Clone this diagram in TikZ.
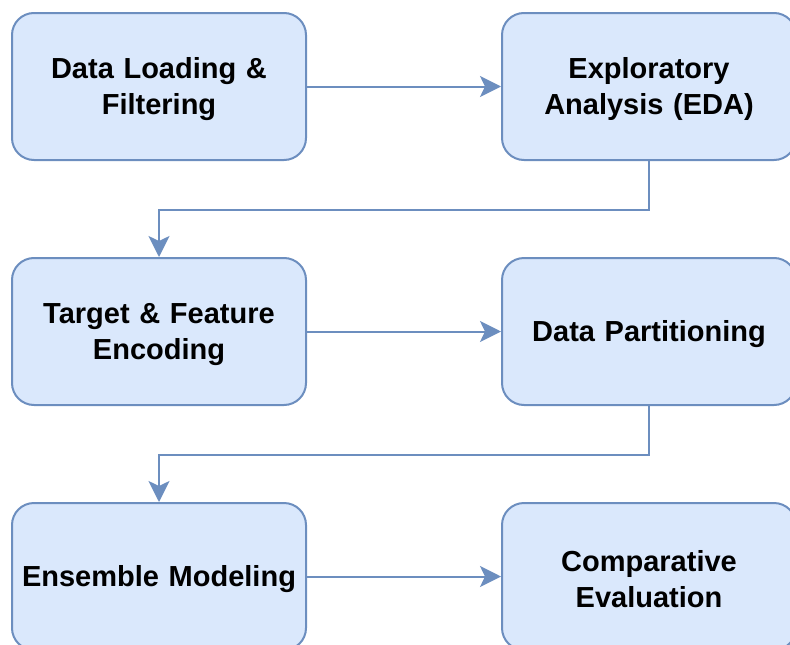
\documentclass[tikz,border=0pt]{standalone}
\usepackage{fontspec}
\setmainfont{Liberation Sans}
\usetikzlibrary{arrows.meta}
\definecolor{boxfill}{HTML}{DAE8FC}
\definecolor{boxline}{HTML}{6C8EBF}
\tikzset{
  stagebox/.style={draw=boxline, fill=boxfill, line width=2pt, rectangle,
    rounded corners=22pt, minimum width=294pt, minimum height=147pt,
    inner sep=0pt},
  stagetext/.style={align=center, text width=280pt, inner sep=0pt, yshift=-3pt,
    font=\bfseries\fontsize{29pt}{36pt}\selectfont},
  flow/.style={draw=boxline, line width=2pt,
    -{Stealth[length=21pt, width=21pt, inset=5pt, fill=boxline]}}
}
\begin{document}
\begin{tikzpicture}[x=1pt,y=-1pt]
\useasboundingbox (0,0) rectangle (790,645);
\clip (0,0) rectangle (790,645);
\node[stagebox, label={[stagetext]center:Data Loading \&\\Filtering}] (load) at (159,86.5) {};
\node[stagebox, label={[stagetext]center:Exploratory\\Analysis (EDA)}] (eda) at (649,86.5) {};
\node[stagebox, label={[stagetext]center:Target \& Feature\\Encoding}] (enc) at (159,331.5) {};
\node[stagebox, label={[stagetext]center:Data Partitioning}] (part) at (649,331.5) {};
\node[stagebox, label={[stagetext]center:Ensemble Modeling}] (ens) at (159,576.5) {};
\node[stagebox, label={[stagetext]center:Comparative\\Evaluation}] (eval) at (649,576.5) {};
\draw[flow] (load) -- (eda);
\draw[flow] (eda.south) -- ++(0,49) -| (enc.north);
\draw[flow] (enc) -- (part);
\draw[flow] (part.south) -- ++(0,49) -| (ens.north);
\draw[flow] (ens) -- (eval);
\end{tikzpicture}
\end{document}
